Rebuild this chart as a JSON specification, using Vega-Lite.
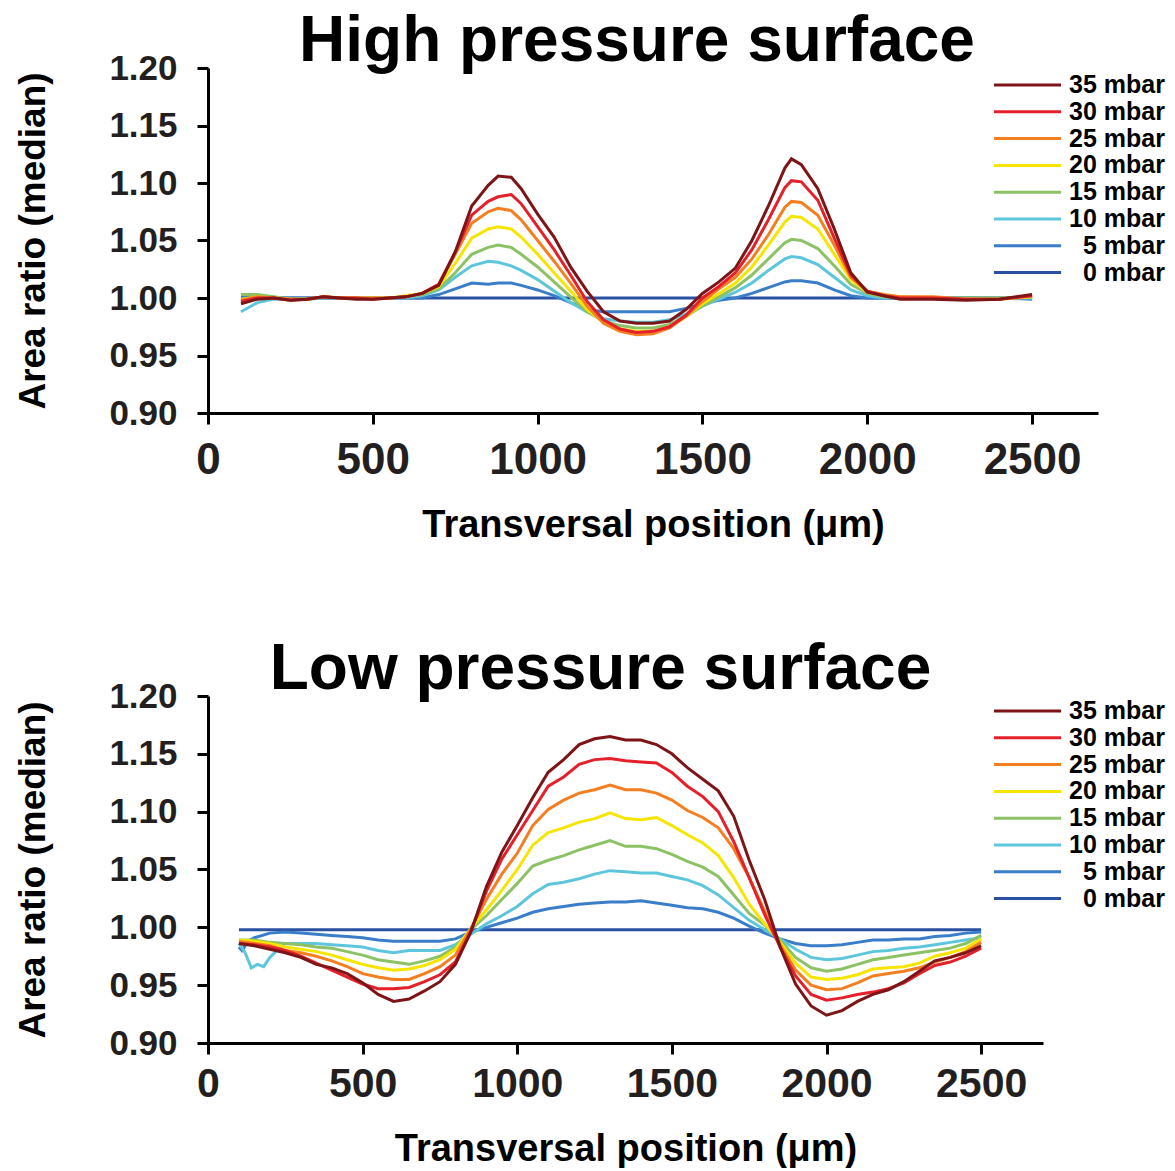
{
"$schema": "https://vega.github.io/schema/vega-lite/v6.json",
"background": "white",
"padding": {"left": 14, "top": 10, "right": 5, "bottom": 0},
"spacing": 94,
"config": {
 "font": "Liberation Sans",
 "view": {"stroke": null},
 "axis": {"grid": false, "domainColor": "#000", "domainWidth": 3, "tickColor": "#000", "tickWidth": 3, "tickSize": 11, "labelFont": "Liberation Sans", "labelFontWeight": "bold", "labelColor": "#231f20", "titleFont": "Liberation Sans", "titleFontWeight": "bold", "titleColor": "#000", "titleFontSize": 38, "labelFlush": false, "labelOverlap": false},
 "axisY": {"labelFontSize": 35, "labelPadding": 20, "titlePadding": 56, "titleFontSize": 37},
 "title": {"font": "Liberation Sans", "fontSize": 64, "fontWeight": "bold", "color": "#000", "anchor": "middle", "frame": "group"},
 "legend": {"symbolType": "M-5,0H5", "symbolSize": 180, "symbolStrokeWidth": 3, "labelFontSize": 25, "labelFont": "Liberation Sans", "labelFontWeight": "bold", "labelColor": "#000", "labelAlign": "right", "labelOffset": 125, "symbolOffset": 21, "rowPadding": 0.8, "padding": 0, "labelLimit": 400}
},
"resolve": {"legend": {"color": "independent"}},
"datasets": {
"high": [
{"p":"0 mbar","x":100,"y":1.000},{"p":"0 mbar","x":2500,"y":1.000},
{"p":"5 mbar","x":100,"y":1.002},{"p":"5 mbar","x":150,"y":1.001},{"p":"5 mbar","x":200,"y":1.000},{"p":"5 mbar","x":250,"y":1.000},{"p":"5 mbar","x":300,"y":1.000},{"p":"5 mbar","x":350,"y":1.000},{"p":"5 mbar","x":400,"y":1.000},{"p":"5 mbar","x":450,"y":1.000},{"p":"5 mbar","x":500,"y":1.000},{"p":"5 mbar","x":550,"y":1.000},{"p":"5 mbar","x":600,"y":1.000},{"p":"5 mbar","x":650,"y":1.000},{"p":"5 mbar","x":700,"y":1.003},{"p":"5 mbar","x":750,"y":1.008},{"p":"5 mbar","x":800,"y":1.013},{"p":"5 mbar","x":850,"y":1.012},{"p":"5 mbar","x":880,"y":1.013},{"p":"5 mbar","x":920,"y":1.013},{"p":"5 mbar","x":950,"y":1.011},{"p":"5 mbar","x":1000,"y":1.007},{"p":"5 mbar","x":1050,"y":1.002},{"p":"5 mbar","x":1100,"y":0.996},{"p":"5 mbar","x":1150,"y":0.990},{"p":"5 mbar","x":1200,"y":0.988},{"p":"5 mbar","x":1250,"y":0.988},{"p":"5 mbar","x":1300,"y":0.988},{"p":"5 mbar","x":1350,"y":0.988},{"p":"5 mbar","x":1400,"y":0.988},{"p":"5 mbar","x":1450,"y":0.991},{"p":"5 mbar","x":1500,"y":0.995},{"p":"5 mbar","x":1550,"y":0.998},{"p":"5 mbar","x":1600,"y":1.000},{"p":"5 mbar","x":1650,"y":1.004},{"p":"5 mbar","x":1700,"y":1.009},{"p":"5 mbar","x":1750,"y":1.014},{"p":"5 mbar","x":1770,"y":1.015},{"p":"5 mbar","x":1800,"y":1.015},{"p":"5 mbar","x":1850,"y":1.013},{"p":"5 mbar","x":1900,"y":1.007},{"p":"5 mbar","x":1950,"y":1.002},{"p":"5 mbar","x":2000,"y":1.000},{"p":"5 mbar","x":2050,"y":1.000},{"p":"5 mbar","x":2100,"y":1.000},{"p":"5 mbar","x":2200,"y":1.000},{"p":"5 mbar","x":2300,"y":1.000},{"p":"5 mbar","x":2400,"y":1.000},{"p":"5 mbar","x":2500,"y":0.999},
{"p":"10 mbar","x":100,"y":0.988},{"p":"10 mbar","x":150,"y":0.996},{"p":"10 mbar","x":200,"y":0.999},{"p":"10 mbar","x":250,"y":0.999},{"p":"10 mbar","x":300,"y":0.999},{"p":"10 mbar","x":350,"y":1.000},{"p":"10 mbar","x":400,"y":1.000},{"p":"10 mbar","x":450,"y":1.000},{"p":"10 mbar","x":500,"y":1.000},{"p":"10 mbar","x":550,"y":1.000},{"p":"10 mbar","x":600,"y":1.000},{"p":"10 mbar","x":650,"y":1.002},{"p":"10 mbar","x":700,"y":1.007},{"p":"10 mbar","x":750,"y":1.018},{"p":"10 mbar","x":800,"y":1.028},{"p":"10 mbar","x":850,"y":1.032},{"p":"10 mbar","x":880,"y":1.031},{"p":"10 mbar","x":920,"y":1.028},{"p":"10 mbar","x":950,"y":1.024},{"p":"10 mbar","x":1000,"y":1.016},{"p":"10 mbar","x":1050,"y":1.006},{"p":"10 mbar","x":1100,"y":0.996},{"p":"10 mbar","x":1150,"y":0.988},{"p":"10 mbar","x":1200,"y":0.982},{"p":"10 mbar","x":1250,"y":0.980},{"p":"10 mbar","x":1300,"y":0.979},{"p":"10 mbar","x":1350,"y":0.979},{"p":"10 mbar","x":1400,"y":0.981},{"p":"10 mbar","x":1450,"y":0.986},{"p":"10 mbar","x":1500,"y":0.993},{"p":"10 mbar","x":1550,"y":0.999},{"p":"10 mbar","x":1600,"y":1.005},{"p":"10 mbar","x":1650,"y":1.013},{"p":"10 mbar","x":1700,"y":1.024},{"p":"10 mbar","x":1750,"y":1.034},{"p":"10 mbar","x":1770,"y":1.036},{"p":"10 mbar","x":1800,"y":1.035},{"p":"10 mbar","x":1850,"y":1.029},{"p":"10 mbar","x":1900,"y":1.018},{"p":"10 mbar","x":1950,"y":1.007},{"p":"10 mbar","x":2000,"y":1.002},{"p":"10 mbar","x":2050,"y":1.000},{"p":"10 mbar","x":2100,"y":1.000},{"p":"10 mbar","x":2200,"y":1.000},{"p":"10 mbar","x":2300,"y":1.000},{"p":"10 mbar","x":2400,"y":1.000},{"p":"10 mbar","x":2500,"y":1.000},
{"p":"15 mbar","x":100,"y":1.003},{"p":"15 mbar","x":150,"y":1.003},{"p":"15 mbar","x":200,"y":1.001},{"p":"15 mbar","x":250,"y":0.999},{"p":"15 mbar","x":300,"y":0.999},{"p":"15 mbar","x":350,"y":1.001},{"p":"15 mbar","x":400,"y":1.000},{"p":"15 mbar","x":450,"y":1.000},{"p":"15 mbar","x":500,"y":1.000},{"p":"15 mbar","x":550,"y":1.000},{"p":"15 mbar","x":600,"y":1.001},{"p":"15 mbar","x":650,"y":1.003},{"p":"15 mbar","x":700,"y":1.008},{"p":"15 mbar","x":750,"y":1.022},{"p":"15 mbar","x":800,"y":1.038},{"p":"15 mbar","x":850,"y":1.044},{"p":"15 mbar","x":880,"y":1.046},{"p":"15 mbar","x":920,"y":1.044},{"p":"15 mbar","x":950,"y":1.038},{"p":"15 mbar","x":1000,"y":1.027},{"p":"15 mbar","x":1050,"y":1.014},{"p":"15 mbar","x":1100,"y":1.001},{"p":"15 mbar","x":1150,"y":0.988},{"p":"15 mbar","x":1200,"y":0.980},{"p":"15 mbar","x":1250,"y":0.976},{"p":"15 mbar","x":1300,"y":0.974},{"p":"15 mbar","x":1350,"y":0.974},{"p":"15 mbar","x":1400,"y":0.977},{"p":"15 mbar","x":1450,"y":0.984},{"p":"15 mbar","x":1500,"y":0.993},{"p":"15 mbar","x":1550,"y":1.001},{"p":"15 mbar","x":1600,"y":1.009},{"p":"15 mbar","x":1650,"y":1.020},{"p":"15 mbar","x":1700,"y":1.034},{"p":"15 mbar","x":1750,"y":1.048},{"p":"15 mbar","x":1770,"y":1.051},{"p":"15 mbar","x":1800,"y":1.050},{"p":"15 mbar","x":1850,"y":1.043},{"p":"15 mbar","x":1900,"y":1.028},{"p":"15 mbar","x":1950,"y":1.012},{"p":"15 mbar","x":2000,"y":1.004},{"p":"15 mbar","x":2050,"y":1.001},{"p":"15 mbar","x":2100,"y":1.000},{"p":"15 mbar","x":2200,"y":1.000},{"p":"15 mbar","x":2300,"y":1.000},{"p":"15 mbar","x":2400,"y":1.000},{"p":"15 mbar","x":2500,"y":1.001},
{"p":"20 mbar","x":100,"y":0.999},{"p":"20 mbar","x":150,"y":1.001},{"p":"20 mbar","x":200,"y":1.000},{"p":"20 mbar","x":250,"y":0.999},{"p":"20 mbar","x":300,"y":0.999},{"p":"20 mbar","x":350,"y":1.001},{"p":"20 mbar","x":400,"y":1.000},{"p":"20 mbar","x":450,"y":1.000},{"p":"20 mbar","x":500,"y":1.000},{"p":"20 mbar","x":550,"y":1.000},{"p":"20 mbar","x":600,"y":1.002},{"p":"20 mbar","x":650,"y":1.004},{"p":"20 mbar","x":700,"y":1.010},{"p":"20 mbar","x":750,"y":1.030},{"p":"20 mbar","x":800,"y":1.052},{"p":"20 mbar","x":850,"y":1.060},{"p":"20 mbar","x":880,"y":1.062},{"p":"20 mbar","x":920,"y":1.060},{"p":"20 mbar","x":950,"y":1.053},{"p":"20 mbar","x":1000,"y":1.038},{"p":"20 mbar","x":1050,"y":1.022},{"p":"20 mbar","x":1100,"y":1.006},{"p":"20 mbar","x":1150,"y":0.990},{"p":"20 mbar","x":1200,"y":0.979},{"p":"20 mbar","x":1250,"y":0.973},{"p":"20 mbar","x":1300,"y":0.971},{"p":"20 mbar","x":1350,"y":0.971},{"p":"20 mbar","x":1400,"y":0.975},{"p":"20 mbar","x":1450,"y":0.984},{"p":"20 mbar","x":1500,"y":0.995},{"p":"20 mbar","x":1550,"y":1.004},{"p":"20 mbar","x":1600,"y":1.013},{"p":"20 mbar","x":1650,"y":1.027},{"p":"20 mbar","x":1700,"y":1.046},{"p":"20 mbar","x":1750,"y":1.066},{"p":"20 mbar","x":1770,"y":1.071},{"p":"20 mbar","x":1800,"y":1.070},{"p":"20 mbar","x":1850,"y":1.060},{"p":"20 mbar","x":1900,"y":1.038},{"p":"20 mbar","x":1950,"y":1.016},{"p":"20 mbar","x":2000,"y":1.005},{"p":"20 mbar","x":2050,"y":1.002},{"p":"20 mbar","x":2100,"y":1.001},{"p":"20 mbar","x":2200,"y":1.000},{"p":"20 mbar","x":2300,"y":0.999},{"p":"20 mbar","x":2400,"y":0.999},{"p":"20 mbar","x":2500,"y":1.001},
{"p":"25 mbar","x":100,"y":0.998},{"p":"25 mbar","x":150,"y":1.001},{"p":"25 mbar","x":200,"y":1.000},{"p":"25 mbar","x":250,"y":0.999},{"p":"25 mbar","x":300,"y":0.999},{"p":"25 mbar","x":350,"y":1.001},{"p":"25 mbar","x":400,"y":1.000},{"p":"25 mbar","x":450,"y":1.000},{"p":"25 mbar","x":500,"y":1.000},{"p":"25 mbar","x":550,"y":1.000},{"p":"25 mbar","x":600,"y":1.001},{"p":"25 mbar","x":650,"y":1.004},{"p":"25 mbar","x":700,"y":1.012},{"p":"25 mbar","x":750,"y":1.038},{"p":"25 mbar","x":800,"y":1.065},{"p":"25 mbar","x":850,"y":1.075},{"p":"25 mbar","x":880,"y":1.078},{"p":"25 mbar","x":920,"y":1.076},{"p":"25 mbar","x":950,"y":1.068},{"p":"25 mbar","x":1000,"y":1.050},{"p":"25 mbar","x":1050,"y":1.032},{"p":"25 mbar","x":1100,"y":1.013},{"p":"25 mbar","x":1150,"y":0.993},{"p":"25 mbar","x":1200,"y":0.978},{"p":"25 mbar","x":1250,"y":0.971},{"p":"25 mbar","x":1300,"y":0.968},{"p":"25 mbar","x":1350,"y":0.969},{"p":"25 mbar","x":1400,"y":0.974},{"p":"25 mbar","x":1450,"y":0.984},{"p":"25 mbar","x":1500,"y":0.997},{"p":"25 mbar","x":1550,"y":1.008},{"p":"25 mbar","x":1600,"y":1.018},{"p":"25 mbar","x":1650,"y":1.034},{"p":"25 mbar","x":1700,"y":1.055},{"p":"25 mbar","x":1750,"y":1.079},{"p":"25 mbar","x":1770,"y":1.084},{"p":"25 mbar","x":1800,"y":1.083},{"p":"25 mbar","x":1850,"y":1.072},{"p":"25 mbar","x":1900,"y":1.046},{"p":"25 mbar","x":1950,"y":1.018},{"p":"25 mbar","x":2000,"y":1.006},{"p":"25 mbar","x":2050,"y":1.003},{"p":"25 mbar","x":2100,"y":1.001},{"p":"25 mbar","x":2200,"y":1.001},{"p":"25 mbar","x":2300,"y":0.999},{"p":"25 mbar","x":2400,"y":0.999},{"p":"25 mbar","x":2500,"y":1.002},
{"p":"30 mbar","x":100,"y":0.997},{"p":"30 mbar","x":150,"y":1.000},{"p":"30 mbar","x":200,"y":1.000},{"p":"30 mbar","x":250,"y":0.998},{"p":"30 mbar","x":300,"y":0.999},{"p":"30 mbar","x":350,"y":1.001},{"p":"30 mbar","x":400,"y":1.000},{"p":"30 mbar","x":450,"y":1.000},{"p":"30 mbar","x":500,"y":0.999},{"p":"30 mbar","x":550,"y":1.000},{"p":"30 mbar","x":600,"y":1.001},{"p":"30 mbar","x":650,"y":1.004},{"p":"30 mbar","x":700,"y":1.012},{"p":"30 mbar","x":750,"y":1.040},{"p":"30 mbar","x":800,"y":1.072},{"p":"30 mbar","x":850,"y":1.084},{"p":"30 mbar","x":880,"y":1.088},{"p":"30 mbar","x":920,"y":1.090},{"p":"30 mbar","x":950,"y":1.082},{"p":"30 mbar","x":1000,"y":1.062},{"p":"30 mbar","x":1050,"y":1.042},{"p":"30 mbar","x":1100,"y":1.020},{"p":"30 mbar","x":1150,"y":0.997},{"p":"30 mbar","x":1200,"y":0.981},{"p":"30 mbar","x":1250,"y":0.973},{"p":"30 mbar","x":1300,"y":0.970},{"p":"30 mbar","x":1350,"y":0.971},{"p":"30 mbar","x":1400,"y":0.975},{"p":"30 mbar","x":1450,"y":0.985},{"p":"30 mbar","x":1500,"y":1.000},{"p":"30 mbar","x":1550,"y":1.010},{"p":"30 mbar","x":1600,"y":1.022},{"p":"30 mbar","x":1650,"y":1.042},{"p":"30 mbar","x":1700,"y":1.068},{"p":"30 mbar","x":1750,"y":1.096},{"p":"30 mbar","x":1770,"y":1.102},{"p":"30 mbar","x":1800,"y":1.101},{"p":"30 mbar","x":1850,"y":1.085},{"p":"30 mbar","x":1900,"y":1.052},{"p":"30 mbar","x":1950,"y":1.020},{"p":"30 mbar","x":2000,"y":1.006},{"p":"30 mbar","x":2050,"y":1.002},{"p":"30 mbar","x":2100,"y":1.000},{"p":"30 mbar","x":2200,"y":1.000},{"p":"30 mbar","x":2300,"y":0.999},{"p":"30 mbar","x":2400,"y":0.999},{"p":"30 mbar","x":2500,"y":1.002},
{"p":"35 mbar","x":100,"y":0.995},{"p":"35 mbar","x":150,"y":0.999},{"p":"35 mbar","x":200,"y":1.000},{"p":"35 mbar","x":250,"y":0.998},{"p":"35 mbar","x":300,"y":0.999},{"p":"35 mbar","x":350,"y":1.001},{"p":"35 mbar","x":400,"y":1.000},{"p":"35 mbar","x":450,"y":0.999},{"p":"35 mbar","x":500,"y":0.999},{"p":"35 mbar","x":550,"y":1.000},{"p":"35 mbar","x":600,"y":1.001},{"p":"35 mbar","x":650,"y":1.004},{"p":"35 mbar","x":700,"y":1.011},{"p":"35 mbar","x":750,"y":1.040},{"p":"35 mbar","x":800,"y":1.080},{"p":"35 mbar","x":850,"y":1.098},{"p":"35 mbar","x":880,"y":1.106},{"p":"35 mbar","x":920,"y":1.105},{"p":"35 mbar","x":950,"y":1.095},{"p":"35 mbar","x":1000,"y":1.073},{"p":"35 mbar","x":1050,"y":1.053},{"p":"35 mbar","x":1100,"y":1.027},{"p":"35 mbar","x":1150,"y":1.006},{"p":"35 mbar","x":1200,"y":0.988},{"p":"35 mbar","x":1250,"y":0.980},{"p":"35 mbar","x":1300,"y":0.978},{"p":"35 mbar","x":1350,"y":0.978},{"p":"35 mbar","x":1400,"y":0.980},{"p":"35 mbar","x":1450,"y":0.990},{"p":"35 mbar","x":1500,"y":1.004},{"p":"35 mbar","x":1550,"y":1.014},{"p":"35 mbar","x":1600,"y":1.026},{"p":"35 mbar","x":1650,"y":1.050},{"p":"35 mbar","x":1700,"y":1.080},{"p":"35 mbar","x":1750,"y":1.113},{"p":"35 mbar","x":1770,"y":1.121},{"p":"35 mbar","x":1800,"y":1.116},{"p":"35 mbar","x":1850,"y":1.095},{"p":"35 mbar","x":1900,"y":1.060},{"p":"35 mbar","x":1950,"y":1.022},{"p":"35 mbar","x":2000,"y":1.005},{"p":"35 mbar","x":2050,"y":1.002},{"p":"35 mbar","x":2100,"y":0.999},{"p":"35 mbar","x":2200,"y":0.999},{"p":"35 mbar","x":2300,"y":0.998},{"p":"35 mbar","x":2400,"y":0.999},{"p":"35 mbar","x":2500,"y":1.003}
],
"low": [
{"p":"0 mbar","x":100,"y":0.998},{"p":"0 mbar","x":2500,"y":0.998},
{"p":"5 mbar","x":100,"y":0.983},{"p":"5 mbar","x":110,"y":0.980},{"p":"5 mbar","x":130,"y":0.988},{"p":"5 mbar","x":150,"y":0.991},{"p":"5 mbar","x":200,"y":0.995},{"p":"5 mbar","x":250,"y":0.996},{"p":"5 mbar","x":300,"y":0.995},{"p":"5 mbar","x":350,"y":0.994},{"p":"5 mbar","x":400,"y":0.993},{"p":"5 mbar","x":450,"y":0.992},{"p":"5 mbar","x":500,"y":0.991},{"p":"5 mbar","x":550,"y":0.989},{"p":"5 mbar","x":600,"y":0.988},{"p":"5 mbar","x":650,"y":0.988},{"p":"5 mbar","x":700,"y":0.988},{"p":"5 mbar","x":750,"y":0.988},{"p":"5 mbar","x":800,"y":0.990},{"p":"5 mbar","x":850,"y":0.996},{"p":"5 mbar","x":900,"y":1.000},{"p":"5 mbar","x":950,"y":1.004},{"p":"5 mbar","x":1000,"y":1.008},{"p":"5 mbar","x":1050,"y":1.013},{"p":"5 mbar","x":1100,"y":1.016},{"p":"5 mbar","x":1150,"y":1.018},{"p":"5 mbar","x":1200,"y":1.020},{"p":"5 mbar","x":1250,"y":1.021},{"p":"5 mbar","x":1300,"y":1.022},{"p":"5 mbar","x":1350,"y":1.022},{"p":"5 mbar","x":1400,"y":1.023},{"p":"5 mbar","x":1450,"y":1.021},{"p":"5 mbar","x":1500,"y":1.019},{"p":"5 mbar","x":1550,"y":1.017},{"p":"5 mbar","x":1600,"y":1.016},{"p":"5 mbar","x":1650,"y":1.013},{"p":"5 mbar","x":1700,"y":1.008},{"p":"5 mbar","x":1750,"y":1.001},{"p":"5 mbar","x":1800,"y":0.995},{"p":"5 mbar","x":1850,"y":0.990},{"p":"5 mbar","x":1900,"y":0.986},{"p":"5 mbar","x":1950,"y":0.984},{"p":"5 mbar","x":2000,"y":0.984},{"p":"5 mbar","x":2050,"y":0.985},{"p":"5 mbar","x":2100,"y":0.987},{"p":"5 mbar","x":2150,"y":0.989},{"p":"5 mbar","x":2200,"y":0.989},{"p":"5 mbar","x":2250,"y":0.990},{"p":"5 mbar","x":2300,"y":0.990},{"p":"5 mbar","x":2350,"y":0.992},{"p":"5 mbar","x":2400,"y":0.993},{"p":"5 mbar","x":2450,"y":0.995},{"p":"5 mbar","x":2500,"y":0.996},
{"p":"10 mbar","x":100,"y":0.986},{"p":"10 mbar","x":120,"y":0.978},{"p":"10 mbar","x":140,"y":0.965},{"p":"10 mbar","x":160,"y":0.968},{"p":"10 mbar","x":180,"y":0.966},{"p":"10 mbar","x":200,"y":0.974},{"p":"10 mbar","x":230,"y":0.982},{"p":"10 mbar","x":250,"y":0.986},{"p":"10 mbar","x":300,"y":0.986},{"p":"10 mbar","x":350,"y":0.986},{"p":"10 mbar","x":400,"y":0.985},{"p":"10 mbar","x":450,"y":0.984},{"p":"10 mbar","x":500,"y":0.983},{"p":"10 mbar","x":550,"y":0.980},{"p":"10 mbar","x":600,"y":0.978},{"p":"10 mbar","x":650,"y":0.980},{"p":"10 mbar","x":700,"y":0.980},{"p":"10 mbar","x":750,"y":0.980},{"p":"10 mbar","x":800,"y":0.985},{"p":"10 mbar","x":850,"y":0.994},{"p":"10 mbar","x":900,"y":1.003},{"p":"10 mbar","x":950,"y":1.010},{"p":"10 mbar","x":1000,"y":1.018},{"p":"10 mbar","x":1050,"y":1.029},{"p":"10 mbar","x":1100,"y":1.037},{"p":"10 mbar","x":1150,"y":1.039},{"p":"10 mbar","x":1200,"y":1.042},{"p":"10 mbar","x":1250,"y":1.046},{"p":"10 mbar","x":1300,"y":1.049},{"p":"10 mbar","x":1350,"y":1.048},{"p":"10 mbar","x":1400,"y":1.047},{"p":"10 mbar","x":1450,"y":1.047},{"p":"10 mbar","x":1500,"y":1.044},{"p":"10 mbar","x":1550,"y":1.041},{"p":"10 mbar","x":1600,"y":1.036},{"p":"10 mbar","x":1650,"y":1.028},{"p":"10 mbar","x":1700,"y":1.017},{"p":"10 mbar","x":1750,"y":1.006},{"p":"10 mbar","x":1800,"y":0.998},{"p":"10 mbar","x":1850,"y":0.990},{"p":"10 mbar","x":1900,"y":0.981},{"p":"10 mbar","x":1950,"y":0.974},{"p":"10 mbar","x":2000,"y":0.972},{"p":"10 mbar","x":2050,"y":0.973},{"p":"10 mbar","x":2100,"y":0.976},{"p":"10 mbar","x":2150,"y":0.979},{"p":"10 mbar","x":2200,"y":0.980},{"p":"10 mbar","x":2250,"y":0.982},{"p":"10 mbar","x":2300,"y":0.983},{"p":"10 mbar","x":2350,"y":0.985},{"p":"10 mbar","x":2400,"y":0.987},{"p":"10 mbar","x":2450,"y":0.989},{"p":"10 mbar","x":2500,"y":0.991},
{"p":"15 mbar","x":100,"y":0.989},{"p":"15 mbar","x":150,"y":0.989},{"p":"15 mbar","x":200,"y":0.987},{"p":"15 mbar","x":250,"y":0.986},{"p":"15 mbar","x":300,"y":0.985},{"p":"15 mbar","x":350,"y":0.983},{"p":"15 mbar","x":400,"y":0.982},{"p":"15 mbar","x":450,"y":0.979},{"p":"15 mbar","x":500,"y":0.976},{"p":"15 mbar","x":550,"y":0.972},{"p":"15 mbar","x":600,"y":0.970},{"p":"15 mbar","x":650,"y":0.968},{"p":"15 mbar","x":700,"y":0.971},{"p":"15 mbar","x":750,"y":0.975},{"p":"15 mbar","x":800,"y":0.983},{"p":"15 mbar","x":850,"y":0.998},{"p":"15 mbar","x":900,"y":1.010},{"p":"15 mbar","x":950,"y":1.024},{"p":"15 mbar","x":1000,"y":1.038},{"p":"15 mbar","x":1050,"y":1.053},{"p":"15 mbar","x":1100,"y":1.058},{"p":"15 mbar","x":1150,"y":1.062},{"p":"15 mbar","x":1200,"y":1.067},{"p":"15 mbar","x":1250,"y":1.071},{"p":"15 mbar","x":1300,"y":1.075},{"p":"15 mbar","x":1350,"y":1.070},{"p":"15 mbar","x":1400,"y":1.070},{"p":"15 mbar","x":1450,"y":1.068},{"p":"15 mbar","x":1500,"y":1.063},{"p":"15 mbar","x":1550,"y":1.057},{"p":"15 mbar","x":1600,"y":1.052},{"p":"15 mbar","x":1650,"y":1.044},{"p":"15 mbar","x":1700,"y":1.028},{"p":"15 mbar","x":1750,"y":1.012},{"p":"15 mbar","x":1800,"y":1.002},{"p":"15 mbar","x":1850,"y":0.989},{"p":"15 mbar","x":1900,"y":0.974},{"p":"15 mbar","x":1950,"y":0.965},{"p":"15 mbar","x":2000,"y":0.962},{"p":"15 mbar","x":2050,"y":0.964},{"p":"15 mbar","x":2100,"y":0.968},{"p":"15 mbar","x":2150,"y":0.972},{"p":"15 mbar","x":2200,"y":0.974},{"p":"15 mbar","x":2250,"y":0.976},{"p":"15 mbar","x":2300,"y":0.978},{"p":"15 mbar","x":2350,"y":0.980},{"p":"15 mbar","x":2400,"y":0.982},{"p":"15 mbar","x":2450,"y":0.986},{"p":"15 mbar","x":2500,"y":0.993},
{"p":"20 mbar","x":100,"y":0.989},{"p":"20 mbar","x":150,"y":0.988},{"p":"20 mbar","x":200,"y":0.986},{"p":"20 mbar","x":250,"y":0.983},{"p":"20 mbar","x":300,"y":0.981},{"p":"20 mbar","x":350,"y":0.979},{"p":"20 mbar","x":400,"y":0.976},{"p":"20 mbar","x":450,"y":0.972},{"p":"20 mbar","x":500,"y":0.968},{"p":"20 mbar","x":550,"y":0.965},{"p":"20 mbar","x":600,"y":0.963},{"p":"20 mbar","x":650,"y":0.964},{"p":"20 mbar","x":700,"y":0.967},{"p":"20 mbar","x":750,"y":0.972},{"p":"20 mbar","x":800,"y":0.981},{"p":"20 mbar","x":850,"y":0.999},{"p":"20 mbar","x":900,"y":1.015},{"p":"20 mbar","x":950,"y":1.032},{"p":"20 mbar","x":1000,"y":1.050},{"p":"20 mbar","x":1050,"y":1.071},{"p":"20 mbar","x":1100,"y":1.082},{"p":"20 mbar","x":1150,"y":1.086},{"p":"20 mbar","x":1200,"y":1.091},{"p":"20 mbar","x":1250,"y":1.094},{"p":"20 mbar","x":1300,"y":1.099},{"p":"20 mbar","x":1350,"y":1.094},{"p":"20 mbar","x":1400,"y":1.093},{"p":"20 mbar","x":1450,"y":1.095},{"p":"20 mbar","x":1500,"y":1.088},{"p":"20 mbar","x":1550,"y":1.080},{"p":"20 mbar","x":1600,"y":1.073},{"p":"20 mbar","x":1650,"y":1.062},{"p":"20 mbar","x":1700,"y":1.043},{"p":"20 mbar","x":1750,"y":1.020},{"p":"20 mbar","x":1800,"y":1.003},{"p":"20 mbar","x":1850,"y":0.987},{"p":"20 mbar","x":1900,"y":0.969},{"p":"20 mbar","x":1950,"y":0.957},{"p":"20 mbar","x":2000,"y":0.955},{"p":"20 mbar","x":2050,"y":0.956},{"p":"20 mbar","x":2100,"y":0.959},{"p":"20 mbar","x":2150,"y":0.964},{"p":"20 mbar","x":2200,"y":0.965},{"p":"20 mbar","x":2250,"y":0.966},{"p":"20 mbar","x":2300,"y":0.969},{"p":"20 mbar","x":2350,"y":0.975},{"p":"20 mbar","x":2400,"y":0.978},{"p":"20 mbar","x":2450,"y":0.982},{"p":"20 mbar","x":2500,"y":0.990},
{"p":"25 mbar","x":100,"y":0.988},{"p":"25 mbar","x":150,"y":0.986},{"p":"25 mbar","x":200,"y":0.984},{"p":"25 mbar","x":250,"y":0.980},{"p":"25 mbar","x":300,"y":0.978},{"p":"25 mbar","x":350,"y":0.975},{"p":"25 mbar","x":400,"y":0.971},{"p":"25 mbar","x":450,"y":0.966},{"p":"25 mbar","x":500,"y":0.960},{"p":"25 mbar","x":550,"y":0.957},{"p":"25 mbar","x":600,"y":0.955},{"p":"25 mbar","x":650,"y":0.955},{"p":"25 mbar","x":700,"y":0.960},{"p":"25 mbar","x":750,"y":0.966},{"p":"25 mbar","x":800,"y":0.976},{"p":"25 mbar","x":850,"y":0.999},{"p":"25 mbar","x":900,"y":1.024},{"p":"25 mbar","x":950,"y":1.046},{"p":"25 mbar","x":1000,"y":1.064},{"p":"25 mbar","x":1050,"y":1.088},{"p":"25 mbar","x":1100,"y":1.102},{"p":"25 mbar","x":1150,"y":1.110},{"p":"25 mbar","x":1200,"y":1.116},{"p":"25 mbar","x":1250,"y":1.119},{"p":"25 mbar","x":1300,"y":1.123},{"p":"25 mbar","x":1350,"y":1.119},{"p":"25 mbar","x":1400,"y":1.119},{"p":"25 mbar","x":1450,"y":1.116},{"p":"25 mbar","x":1500,"y":1.110},{"p":"25 mbar","x":1550,"y":1.101},{"p":"25 mbar","x":1600,"y":1.095},{"p":"25 mbar","x":1650,"y":1.086},{"p":"25 mbar","x":1700,"y":1.068},{"p":"25 mbar","x":1750,"y":1.043},{"p":"25 mbar","x":1800,"y":1.014},{"p":"25 mbar","x":1850,"y":0.985},{"p":"25 mbar","x":1900,"y":0.963},{"p":"25 mbar","x":1950,"y":0.950},{"p":"25 mbar","x":2000,"y":0.946},{"p":"25 mbar","x":2050,"y":0.947},{"p":"25 mbar","x":2100,"y":0.952},{"p":"25 mbar","x":2150,"y":0.958},{"p":"25 mbar","x":2200,"y":0.960},{"p":"25 mbar","x":2250,"y":0.962},{"p":"25 mbar","x":2300,"y":0.965},{"p":"25 mbar","x":2350,"y":0.970},{"p":"25 mbar","x":2400,"y":0.974},{"p":"25 mbar","x":2450,"y":0.979},{"p":"25 mbar","x":2500,"y":0.987},
{"p":"30 mbar","x":100,"y":0.986},{"p":"30 mbar","x":150,"y":0.985},{"p":"30 mbar","x":200,"y":0.983},{"p":"30 mbar","x":250,"y":0.980},{"p":"30 mbar","x":300,"y":0.975},{"p":"30 mbar","x":350,"y":0.969},{"p":"30 mbar","x":400,"y":0.963},{"p":"30 mbar","x":450,"y":0.957},{"p":"30 mbar","x":500,"y":0.951},{"p":"30 mbar","x":550,"y":0.947},{"p":"30 mbar","x":600,"y":0.947},{"p":"30 mbar","x":650,"y":0.948},{"p":"30 mbar","x":700,"y":0.953},{"p":"30 mbar","x":750,"y":0.959},{"p":"30 mbar","x":800,"y":0.970},{"p":"30 mbar","x":850,"y":0.997},{"p":"30 mbar","x":900,"y":1.031},{"p":"30 mbar","x":950,"y":1.059},{"p":"30 mbar","x":1000,"y":1.080},{"p":"30 mbar","x":1050,"y":1.101},{"p":"30 mbar","x":1100,"y":1.122},{"p":"30 mbar","x":1150,"y":1.130},{"p":"30 mbar","x":1200,"y":1.141},{"p":"30 mbar","x":1250,"y":1.145},{"p":"30 mbar","x":1300,"y":1.146},{"p":"30 mbar","x":1350,"y":1.144},{"p":"30 mbar","x":1400,"y":1.143},{"p":"30 mbar","x":1450,"y":1.142},{"p":"30 mbar","x":1500,"y":1.134},{"p":"30 mbar","x":1550,"y":1.122},{"p":"30 mbar","x":1600,"y":1.113},{"p":"30 mbar","x":1650,"y":1.100},{"p":"30 mbar","x":1700,"y":1.074},{"p":"30 mbar","x":1750,"y":1.043},{"p":"30 mbar","x":1800,"y":1.011},{"p":"30 mbar","x":1850,"y":0.983},{"p":"30 mbar","x":1900,"y":0.958},{"p":"30 mbar","x":1950,"y":0.942},{"p":"30 mbar","x":2000,"y":0.937},{"p":"30 mbar","x":2050,"y":0.939},{"p":"30 mbar","x":2100,"y":0.942},{"p":"30 mbar","x":2150,"y":0.944},{"p":"30 mbar","x":2200,"y":0.947},{"p":"30 mbar","x":2250,"y":0.952},{"p":"30 mbar","x":2300,"y":0.960},{"p":"30 mbar","x":2350,"y":0.967},{"p":"30 mbar","x":2400,"y":0.970},{"p":"30 mbar","x":2450,"y":0.975},{"p":"30 mbar","x":2500,"y":0.982},
{"p":"35 mbar","x":100,"y":0.986},{"p":"35 mbar","x":150,"y":0.984},{"p":"35 mbar","x":200,"y":0.981},{"p":"35 mbar","x":250,"y":0.978},{"p":"35 mbar","x":300,"y":0.974},{"p":"35 mbar","x":350,"y":0.968},{"p":"35 mbar","x":400,"y":0.965},{"p":"35 mbar","x":450,"y":0.960},{"p":"35 mbar","x":500,"y":0.952},{"p":"35 mbar","x":550,"y":0.942},{"p":"35 mbar","x":600,"y":0.936},{"p":"35 mbar","x":650,"y":0.938},{"p":"35 mbar","x":700,"y":0.945},{"p":"35 mbar","x":750,"y":0.953},{"p":"35 mbar","x":800,"y":0.968},{"p":"35 mbar","x":850,"y":0.996},{"p":"35 mbar","x":900,"y":1.035},{"p":"35 mbar","x":950,"y":1.065},{"p":"35 mbar","x":1000,"y":1.088},{"p":"35 mbar","x":1050,"y":1.112},{"p":"35 mbar","x":1100,"y":1.134},{"p":"35 mbar","x":1150,"y":1.145},{"p":"35 mbar","x":1200,"y":1.158},{"p":"35 mbar","x":1250,"y":1.163},{"p":"35 mbar","x":1300,"y":1.165},{"p":"35 mbar","x":1350,"y":1.162},{"p":"35 mbar","x":1400,"y":1.162},{"p":"35 mbar","x":1450,"y":1.158},{"p":"35 mbar","x":1500,"y":1.150},{"p":"35 mbar","x":1550,"y":1.138},{"p":"35 mbar","x":1600,"y":1.128},{"p":"35 mbar","x":1650,"y":1.118},{"p":"35 mbar","x":1700,"y":1.096},{"p":"35 mbar","x":1750,"y":1.058},{"p":"35 mbar","x":1800,"y":1.024},{"p":"35 mbar","x":1850,"y":0.983},{"p":"35 mbar","x":1900,"y":0.951},{"p":"35 mbar","x":1950,"y":0.932},{"p":"35 mbar","x":2000,"y":0.924},{"p":"35 mbar","x":2050,"y":0.928},{"p":"35 mbar","x":2100,"y":0.936},{"p":"35 mbar","x":2150,"y":0.942},{"p":"35 mbar","x":2200,"y":0.946},{"p":"35 mbar","x":2250,"y":0.953},{"p":"35 mbar","x":2300,"y":0.962},{"p":"35 mbar","x":2350,"y":0.971},{"p":"35 mbar","x":2400,"y":0.974},{"p":"35 mbar","x":2450,"y":0.978},{"p":"35 mbar","x":2500,"y":0.984}
]
},
"vconcat": [
{
 "title": {"text": "High pressure surface", "dx": -16, "offset": -23},
 "width": 890, "height": 345,
 "data": {"name": "high"},
 "mark": {"type": "line", "strokeWidth": 3},
 "encoding": {
  "x": {"field": "x", "type": "quantitative", "scale": {"domain": [0, 2700], "nice": false}, "axis": {"values": [0, 500, 1000, 1500, 2000, 2500], "format": "d", "labelFontSize": 44, "labelPadding": 14, "titlePadding": 24, "title": "Transversal position (μm)"}},
  "y": {"field": "y", "type": "quantitative", "scale": {"domain": [0.9, 1.2], "nice": false, "zero": false}, "axis": {"values": [0.9, 0.95, 1.0, 1.05, 1.1, 1.15, 1.2], "format": ".2f", "title": "Area ratio (median)"}},
  "color": {"field": "p", "type": "nominal", "scale": {"domain": ["35 mbar", "30 mbar", "25 mbar", "20 mbar", "15 mbar", "10 mbar", "5 mbar", "0 mbar"], "range": ["#7d1518", "#e5202a", "#f47e20", "#f6e500", "#8cc265", "#5ec6dc", "#3a7dc9", "#2a50a2"]}, "legend": {"title": null, "orient": "none", "legendX": 786, "legendY": 4.5}}
 }
},
{
 "title": {"text": "Low pressure surface", "dx": -25, "offset": -23},
 "width": 835, "height": 347,
 "data": {"name": "low"},
 "mark": {"type": "line", "strokeWidth": 3},
 "encoding": {
  "x": {"field": "x", "type": "quantitative", "scale": {"domain": [0, 2700], "nice": false}, "axis": {"values": [0, 500, 1000, 1500, 2000, 2500], "format": "d", "labelFontSize": 41, "labelPadding": 10, "titlePadding": 26, "title": "Transversal position (μm)"}},
  "y": {"field": "y", "type": "quantitative", "scale": {"domain": [0.9, 1.2], "nice": false, "zero": false}, "axis": {"values": [0.9, 0.95, 1.0, 1.05, 1.1, 1.15, 1.2], "format": ".2f", "title": "Area ratio (median)"}},
  "color": {"field": "p", "type": "nominal", "scale": {"domain": ["35 mbar", "30 mbar", "25 mbar", "20 mbar", "15 mbar", "10 mbar", "5 mbar", "0 mbar"], "range": ["#7d1518", "#e5202a", "#f47e20", "#f6e500", "#8cc265", "#5ec6dc", "#3a7dc9", "#2a50a2"]}, "legend": {"title": null, "orient": "none", "legendX": 786, "legendY": 2.5}}
 }
}
]
}
